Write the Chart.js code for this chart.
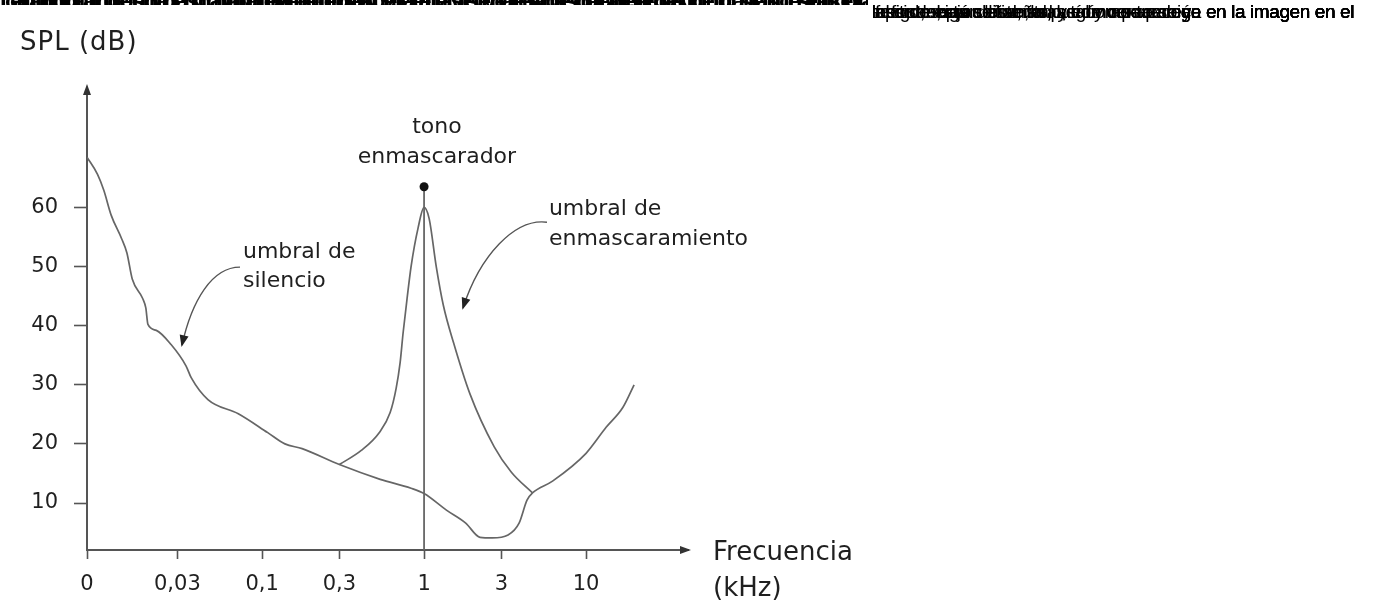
<!DOCTYPE html>
<html>
<head>
<meta charset="utf-8">
<script src="https://cdn.jsdelivr.net/npm/chart.js@4.4.1/dist/chart.umd.min.js"></script>
<style>
html,body{margin:0;padding:0;background:#fff;overflow:hidden}
#wrap{position:relative;width:1375px;height:607px;background:#fff}
canvas{position:absolute;left:0;top:0}
#band{position:absolute;left:0;top:0;width:868px;height:5px;overflow:hidden}
#band span{position:absolute;top:-11px;white-space:nowrap;font:bold 24px "Liberation Sans",Arial,sans-serif;line-height:24px;letter-spacing:-2px;color:#000}
#hdr{position:absolute;left:873px;top:0;width:481px;height:24px;overflow:hidden}
#hdr span{position:absolute;right:0;top:1px;white-space:nowrap;font:19px "Liberation Sans",Arial,sans-serif;line-height:21px;color:#000}
</style>
</head>
<body>
<div id="wrap">
  <canvas id="c" width="1375" height="607"></canvas>
  <div id="band">
    <span style="left:0">La figura muestra el umbral de audición y el efecto de enmascaramiento de un tono sobre las frecuencias próximas del espectro audible, tal y como se recoge en el modelo psicoacústico</span>
    <span style="left:5px">cuando un tono de mayor nivel enmascara a las señales de frecuencias cercanas, éstas quedan por debajo del umbral y no se perciben en el oído humano</span>
    <span style="left:10px">el umbral de enmascaramiento depende del nivel y de la frecuencia del tono, según el modelo de la codificación perceptual de audio digital</span>
  </div>
  <div id="hdr">
    <span style="letter-spacing:-0.4px">las propiedades del sistema auditivo, tal y como se recoge en la imagen en el</span>
    <span style="letter-spacing:-0.4px">espectro, según la señal, así como aparece en la imagen en el</span>
    <span style="letter-spacing:-0.4px">caso de esta señal; se puede ver también en la imagen en el</span>
    <span style="letter-spacing:-0.4px">en la figura, para este tono, como se recoge en la imagen en el</span>
    <span style="letter-spacing:-0.4px">las señales por debajo del umbral, tal y como se ve en la imagen en el</span>
    <span style="letter-spacing:-0.4px">para las frecuencias cercanas, según aparece ya en la imagen en el</span>
  </div>
</div>
<script>
// ---------- data ----------
const xMin = 0.0083;            // the "0" origin of the frequency axis (kHz)
const xMax = 42.6;
const yMin = 2.05;
const yMax = 80.2;
const tickValues = [0.0083, 0.03, 0.1, 0.3, 1, 3, 10];
const tickLabels = ['0', '0,03', '0,1', '0,3', '1', '3', '10'];
const yTickValues = [10, 20, 30, 40, 50, 60];

// umbral de silencio (threshold in quiet)
const quietFreq  = [0.0083, 0.00964, 0.01054, 0.0117, 0.01358, 0.01464, 0.01579, 0.01832, 0.01915, 0.01974, 0.02223, 0.02742, 0.0339, 0.0365, 0.0463, 0.0713, 0.1084, 0.1383, 0.1766, 0.3, 0.536, 0.831, 1, 1.374, 1.808, 2.215, 2.635, 3.30, 3.86, 4.32, 4.67, 6.21, 10, 13.3, 16.9, 19.8];
const quietLevel = [68.5, 65.6, 62.9, 58.7, 54.7, 52.3, 47.9, 44.6, 43.0, 40.2, 39.2, 36.8, 33.2, 31.2, 27.5, 25.1, 21.9, 20.0, 19.2, 16.5, 14.0, 12.5, 11.6, 8.8, 6.6, 4.2, 4.1, 4.6, 6.6, 10.5, 11.7, 13.7, 18.4, 22.8, 26.2, 30.0];

// umbral de enmascaramiento (masking threshold)
const maskFreq  = [0.3, 0.4096, 0.5284, 0.6175, 0.6723, 0.7112, 0.7424, 0.7856, 0.8313, 0.918, 1, 1.075, 1.189, 1.316, 1.521, 1.917, 2.711, 3.46, 4.67];
const maskLevel = [16.5, 18.9, 21.9, 25.3, 29.4, 33.7, 38.8, 44.6, 50.0, 56.5, 60.0, 58.1, 50.0, 43.4, 37.1, 28.5, 19.5, 15.2, 11.7];

// tono enmascarador (masker)
const maskerFreq = 1;
const maskerLevel = 63.5;

// annotation anchors, in data coordinates [kHz, dB]
const noteTexts = [
  {lines: ['tono', 'enmascarador'], at: [1.20, 72.6], step: 5.1, align: 'center'},
  {lines: ['umbral de', 'silencio'], at: [0.0762, 51.4], step: 4.9, align: 'left'},
  {lines: ['umbral de', 'enmascaramiento'], at: [5.90, 58.7], step: 5.1, align: 'left'}
];
const noteArrows = [
  [[0.0731, 49.9], [0.0491, 49.9], [0.0369, 44.3], [0.0320, 36.7]],
  [[5.74, 57.5], [3.64, 58.2], [2.214, 51.9], [1.739, 43.0]]
];

// ---------- drawing ----------
const CURVE = '#666';
const AXIS = '#555';
const TEXT = '#1f1f1f';

const toXY = (fs, ls) => fs.map((f, i) => ({x: f, y: ls[i]}));

const annot = {
  id: 'annot',
  afterDraw(chart) {
    const {ctx, chartArea: ca, scales: {x, y}} = chart;
    const P = (p) => [x.getPixelForValue(p[0]), y.getPixelForValue(p[1])];
    ctx.save();
    // axis arrow heads
    ctx.fillStyle = '#333';
    ctx.beginPath();
    ctx.moveTo(ca.left, ca.top - 4);
    ctx.lineTo(ca.left - 4, ca.top + 7);
    ctx.lineTo(ca.left + 4, ca.top + 7);
    ctx.closePath(); ctx.fill();
    ctx.beginPath();
    ctx.moveTo(ca.right + 3, ca.bottom);
    ctx.lineTo(ca.right - 8, ca.bottom - 4);
    ctx.lineTo(ca.right - 8, ca.bottom + 4);
    ctx.closePath(); ctx.fill();

    // axis titles
    ctx.fillStyle = TEXT;
    ctx.textBaseline = 'alphabetic';
    ctx.textAlign = 'left';
    ctx.font = '26px "DejaVu Sans", sans-serif';
    ctx.letterSpacing = '1px';
    ctx.fillText('SPL (dB)', ca.left - 67, ca.top - 38);
    ctx.letterSpacing = '0px';
    ctx.fillText('Frecuencia', ca.right + 25, ca.bottom + 10);
    ctx.fillText('(kHz)', ca.right + 25, ca.bottom + 46);

    // annotation texts
    ctx.font = '22px "DejaVu Sans", sans-serif';
    noteTexts.forEach(n => {
      ctx.textAlign = n.align;
      n.lines.forEach((s, i) => {
        const [px, py] = P([n.at[0], n.at[1] - i * n.step]);
        ctx.fillText(s, px, py);
      });
    });

    // curved arrows
    ctx.strokeStyle = '#555';
    ctx.fillStyle = '#222';
    ctx.lineWidth = 1.4;
    noteArrows.forEach(a => {
      const [p0, p1, p2, p3] = a.map(P);
      ctx.beginPath();
      ctx.moveTo(p0[0], p0[1]);
      ctx.bezierCurveTo(p1[0], p1[1], p2[0], p2[1], p3[0], p3[1]);
      ctx.stroke();
      const ang = Math.atan2(p3[1] - p2[1], p3[0] - p2[0]);
      const L = 10, W = 4.5;
      ctx.beginPath();
      ctx.moveTo(p3[0] + Math.cos(ang) * 2, p3[1] + Math.sin(ang) * 2);
      ctx.lineTo(p3[0] - Math.cos(ang) * L + Math.sin(ang) * W, p3[1] - Math.sin(ang) * L - Math.cos(ang) * W);
      ctx.lineTo(p3[0] - Math.cos(ang) * L - Math.sin(ang) * W, p3[1] - Math.sin(ang) * L + Math.cos(ang) * W);
      ctx.closePath(); ctx.fill();
    });
    ctx.restore();
  }
};

new Chart(document.getElementById('c'), {
  type: 'line',
  data: {
    datasets: [
      {
        label: 'umbral de silencio',
        data: toXY(quietFreq, quietLevel),
        borderColor: CURVE, borderWidth: 1.7, pointRadius: 0,
        cubicInterpolationMode: 'monotone', fill: false
      },
      {
        label: 'umbral de enmascaramiento',
        data: toXY(maskFreq, maskLevel),
        borderColor: CURVE, borderWidth: 1.7, pointRadius: 0,
        cubicInterpolationMode: 'monotone', fill: false
      },
      {
        label: 'tono enmascarador',
        data: [{x: maskerFreq, y: yMin}, {x: maskerFreq, y: maskerLevel}],
        borderColor: CURVE, borderWidth: 1.8,
        pointRadius: [0, 4.5], pointBackgroundColor: '#111', pointBorderWidth: 0,
        tension: 0, fill: false
      }
    ]
  },
  options: {
    responsive: false,
    animation: false,
    devicePixelRatio: 1,
    events: [],
    layout: {padding: {left: 0, top: 88, right: 687, bottom: 0}},
    plugins: {legend: {display: false}, tooltip: {enabled: false}, title: {display: false}},
    scales: {
      x: {
        type: 'logarithmic',
        min: xMin, max: xMax,
        afterBuildTicks: s => { s.ticks = tickValues.map(v => ({value: v})); },
        afterFit: s => { s.height = 57; },
        ticks: {
          autoSkip: false, maxRotation: 0, padding: 13,
          color: TEXT,
          font: {family: '"DejaVu Sans", sans-serif', size: 21},
          callback: (v, i) => tickLabels[i]
        },
        grid: {display: true, drawOnChartArea: false, drawTicks: true, tickLength: 9, tickColor: AXIS, tickWidth: 1.6},
        border: {display: true, color: AXIS, width: 2}
      },
      y: {
        type: 'linear',
        min: yMin, max: yMax,
        afterBuildTicks: s => { s.ticks = yTickValues.map(v => ({value: v})); },
        afterFit: s => { s.width = 87; },
        ticks: {
          padding: 16, color: TEXT,
          font: {family: '"DejaVu Sans", sans-serif', size: 21},
          callback: v => String(v)
        },
        grid: {display: true, drawOnChartArea: false, drawTicks: true, tickLength: 13, tickColor: AXIS, tickWidth: 1.6},
        border: {display: true, color: AXIS, width: 2}
      }
    }
  },
  plugins: [annot]
});
</script>
</body>
</html>
